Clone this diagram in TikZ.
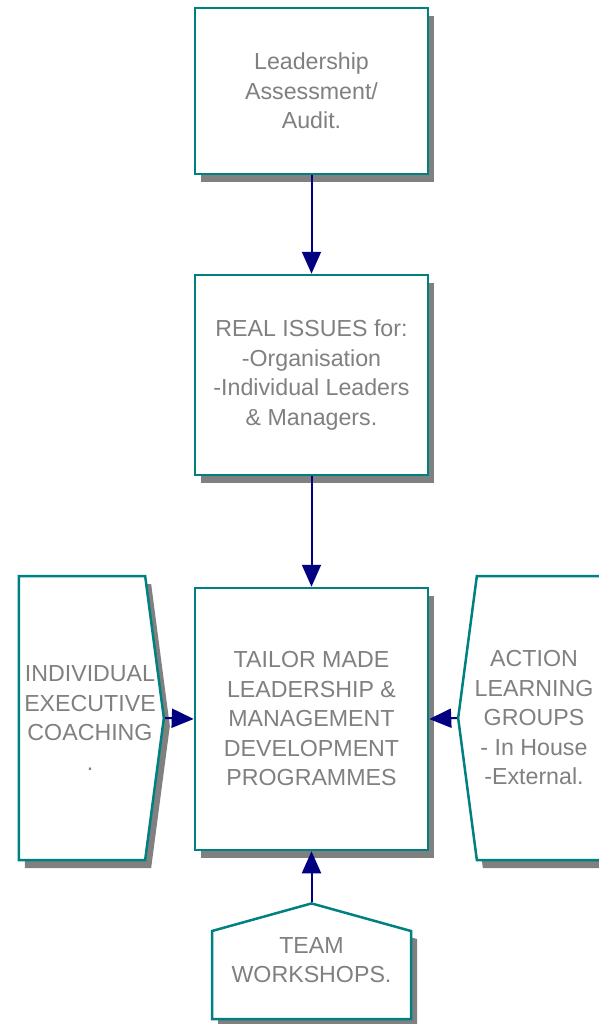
\documentclass[tikz,border=0pt]{standalone}
\usepackage{fontspec}
\setmainfont{Liberation Sans}
\usetikzlibrary{shapes.symbols,shadows,arrows.meta}
\definecolor{tealline}{RGB}{0,128,128}
\definecolor{textgray}{RGB}{128,128,128}
\definecolor{navyline}{RGB}{0,0,128}
\definecolor{shadowgray}{RGB}{128,128,128}

\begin{document}
\begin{tikzpicture} [
        x = 1pt, y = -1pt,
        every node/.style = {text=textgray, align=center, inner sep=0pt,
                     font=\fontsize{23.2}{29.5}\selectfont},
        block/.style = {draw=tealline, line width=2.5pt, fill=white,
                     drop shadow={draw=none, fill=shadowgray, opacity=1,
                                  shadow xshift=6pt, shadow yshift=-8pt}},
        box/.style = {block, rectangle, minimum width=233pt, minimum height=#1},
        side/.style = {block, signal, signal to=#1, signal pointer angle=165,% pointed side
                     minimum width=145pt, minimum height=284pt},
        link/.style = {draw=navyline, line width=2pt,
                     -{Triangle[width=19pt, length=22pt]}}
    ]

    \useasboundingbox (0,0) rectangle (598,1024);

    \node (Assess) [box=166pt] at (311.5,91) {Leadership\\Assessment/\\Audit.};
    \node (Issues) [box=200pt] at (311.5,375) {REAL ISSUES for:\\-Organisation\\-Individual Leaders\\\& Managers.};
    \node (Prog) [box=262pt] at (311.5,719) {TAILOR MADE\\LEADERSHIP \&\\MANAGEMENT\\DEVELOPMENT\\PROGRAMMES};
    \node (Coach) [side=east, label={[xshift=8pt]center:{INDIVIDUAL\\EXECUTIVE\\COACHING\\.}}]
        at (82,718) {};
    \node (Action) [side=west, label={[xshift=-6pt]center:{ACTION\\LEARNING\\GROUPS\\- In House\\-External.}}]
        at (540,718) {};
    \node (Team) [block, signal, signal to=north, signal pointer angle=149,
                  minimum width=199pt, minimum height=88pt,
                  label={[yshift=15pt]center:{TEAM\\WORKSHOPS.}}] at (311.5,975) {};

    \draw[link] (Assess) -- (Issues);
    \draw[link] (Issues) -- (Prog);
    \draw[link] (Coach.east) -- (Prog.west);
    \draw[link] (Action.west) -- (Prog.east);
    \draw[link] (Team.north) -- (Prog.south);

\end{tikzpicture}
\end{document}
